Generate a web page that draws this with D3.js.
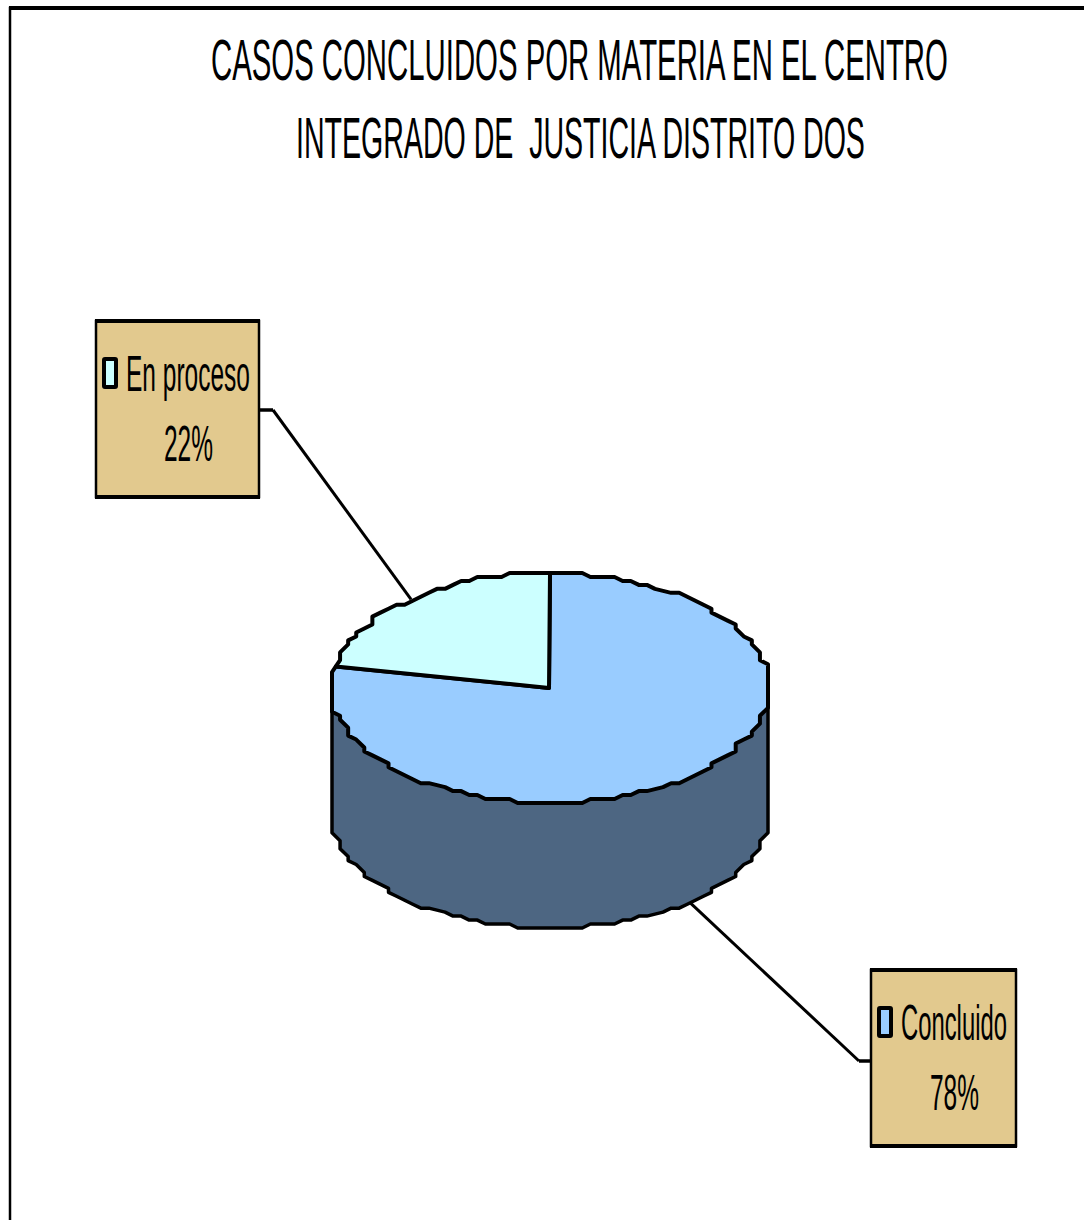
<!DOCTYPE html>
<html><head><meta charset="utf-8">
<script src="https://cdn.jsdelivr.net/npm/d3@7"></script>
<style>html,body{margin:0;padding:0;background:#fff;overflow:hidden}svg{display:block}text{font-family:"Liberation Sans",Arial,sans-serif;fill:#000;white-space:pre}</style>
</head><body><svg id="c" width="1084" height="1220"></svg>
<script>
const titleLines = ["CASOS CONCLUIDOS POR MATERIA EN EL CENTRO", "INTEGRADO DE  JUSTICIA DISTRITO DOS"];
const categories = ["Concluido", "En proceso"];
const values = [78, 22];
const topColors = ["#99ccff", "#ccffff"];
const sideColor = "#4d6682";
const boxFill = "#e2c98e";

const svg = d3.select("#c");
const cx = 550, cy = 688, rx = 218, ry = 115, depth = 125;
const sx = d3.scaleLinear().domain([-1, 1]).range([cx - rx, cx + rx]);
const sy = d3.scaleLinear().domain([-1, 1]).range([cy - ry, cy + ry]);
const GX = 2 * rx / 54, GY = 2 * ry / 58;
const snapX = v => Math.round((v - cx + rx) / GX) * GX + cx - rx;
const snapY = v => Math.round((v - cy + ry) / GY) * GY + cy - ry;
const rim = a => [snapX(sx(Math.sin(a))), snapY(sy(-Math.cos(a)))];
const exact = a => [sx(Math.sin(a)), sy(-Math.cos(a))];
const line = d3.line();
const stepA = Math.PI / 66;

// frame
svg.append("path").attr("d", "M10,1220V8H1084").attr("fill", "none").attr("stroke", "#000").attr("stroke-width", 2.5);
svg.append("path").attr("d", "M9,8H1084").attr("fill", "none").attr("stroke", "#000").attr("stroke-width", 4);

// fit a text to a horizontal span by scaling its glyphs
function fitted(t, x0, x1, y, size) {
  const g = svg.append("g");
  const el = g.append("text").attr("font-size", size).text(t);
  const w = el.node().getComputedTextLength();
  g.attr("transform", `translate(${x0},${y}) scale(${(x1 - x0) / w},1)`);
}

// title
const titleSpan = [[211, 948, 80], [296, 865, 158]];
titleLines.forEach((t, i) => fitted(t, titleSpan[i][0], titleSpan[i][1], titleSpan[i][2], 58));

const arcs = d3.pie().sort(null)(values);
const lower = d3.range(Math.PI / 2, 1.5 * Math.PI + 1e-6, stepA).map(rim);

// labels: leaders first so the pie covers their ends
const boxes = [
  {x: 871, y: 970, w: 145, h: 176, sw: 885, tx: 901, tw: 106, py: 1110, lx: 954, stub: [859, 1061], edge: 871, up: depth},
  {x: 96, y: 321, w: 163, h: 176, sw: 110, tx: 126, tw: 124, py: 461, lx: 188, stub: [273, 410], edge: 259, up: 0}
];
boxes.forEach((b, i) => {
  const mid = (arcs[i].startAngle + arcs[i].endAngle) / 2;
  const p = exact(mid);
  svg.append("path").attr("d", line([[p[0], p[1] + b.up], b.stub]))
    .attr("fill", "none").attr("stroke", "#000").attr("stroke-width", 3);
  svg.append("path").attr("d", line([b.stub, [b.edge, b.stub[1]]]))
    .attr("fill", "none").attr("stroke", "#000").attr("stroke-width", 3.5);
});

// side wall
svg.append("path").attr("d", line([[cx + rx, cy], [cx + rx, cy + depth],
   ...lower.map(p => [p[0], p[1] + depth]), [cx - rx, cy + depth], [cx - rx, cy]]) + "Z")
  .attr("fill", sideColor).attr("stroke", "#000").attr("stroke-width", 3.5).attr("stroke-linejoin", "round");

// top slices
arcs.forEach((d, i) => {
  const n = Math.ceil((d.endAngle - d.startAngle) / stepA);
  const pts = d3.range(n + 1).map(k => {
    const a = d.startAngle + (d.endAngle - d.startAngle) * k / n;
    return (k === 0 || k === n) ? exact(a) : rim(a);
  });
  svg.append("path").attr("d", line([[cx - 1, cy], ...pts]) + "Z")
    .attr("fill", topColors[i]).attr("stroke", "#000").attr("stroke-width", 4).attr("stroke-linejoin", "round");
});

boxes.forEach((b, i) => {
  svg.append("rect").attr("x", b.x).attr("y", b.y).attr("width", b.w).attr("height", b.h)
    .attr("fill", boxFill).attr("stroke", "#000").attr("stroke-width", 2.5);
  [b.y, b.y + b.h].forEach(yy => svg.append("path").attr("d", line([[b.x - 1, yy], [b.x + b.w + 1, yy]]))
    .attr("stroke", "#000").attr("stroke-width", 4));
  const base = b.py - 70;
  svg.append("rect").attr("x", b.sw - 6).attr("y", base - 32).attr("width", 12).attr("height", 28)
    .attr("fill", topColors[i]).attr("stroke", "#000").attr("stroke-width", 4).attr("rx", 1);
  fitted(categories[i], b.tx, b.tx + b.tw, base, 50);
  fitted(values[i] + "%", b.lx - 24, b.lx + 25, b.py, 50);
});
</script></body></html>
